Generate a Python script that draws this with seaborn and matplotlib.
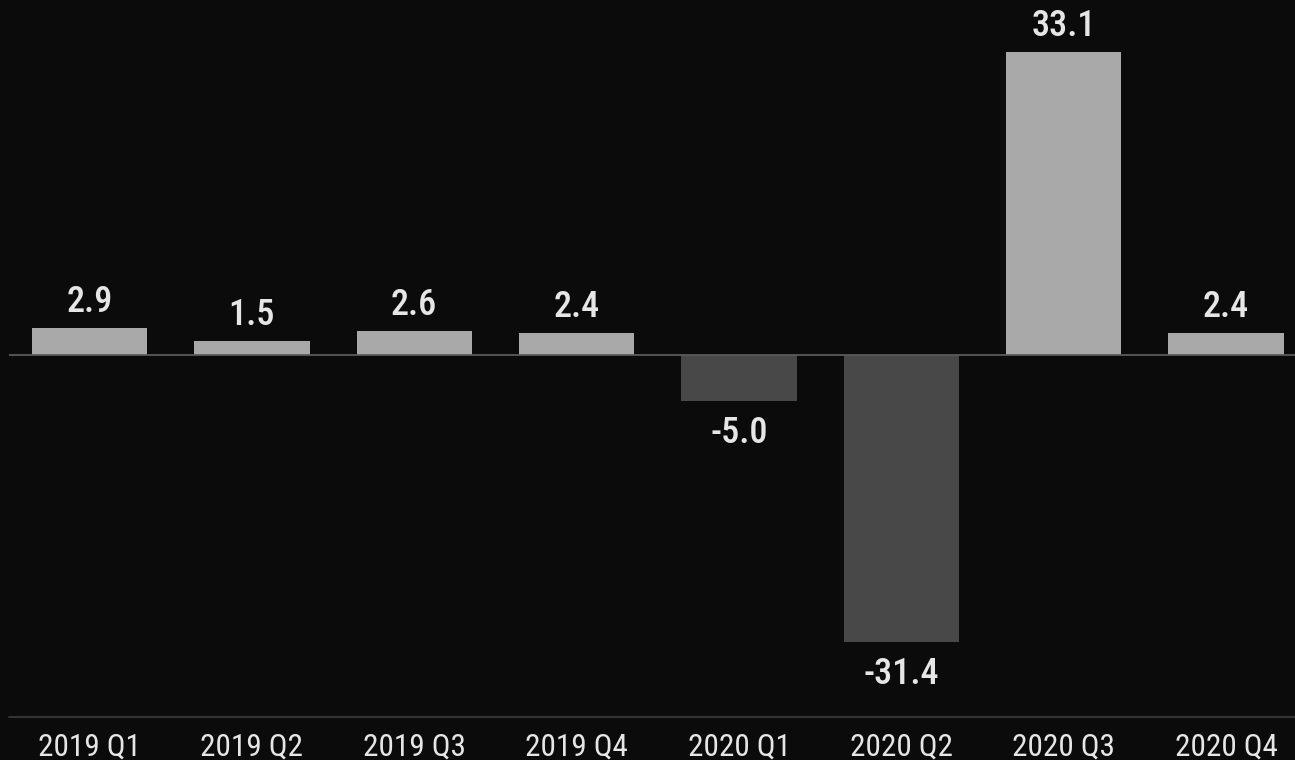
import matplotlib
matplotlib.use("Agg")
import matplotlib.pyplot as plt
import seaborn as sns
import pandas as pd

# Quarterly change, percent
quarters = ["2019 Q1", "2019 Q2", "2019 Q3", "2019 Q4",
            "2020 Q1", "2020 Q2", "2020 Q3", "2020 Q4"]
values = [2.9, 1.5, 2.6, 2.4, -5.0, -31.4, 33.1, 2.4]

BG = "#0b0b0b"
POS = "#a9a9a9"
NEG = "#484848"
TXT = "#e6e6e6"
FONT = ["Liberation Sans Narrow", "Roboto Condensed", "Roboto", "DejaVu Sans"]

sns.set_theme(style="dark")
plt.rcParams["font.family"] = FONT

df = pd.DataFrame({"quarter": quarters, "value": values})
colors = {q: (POS if v >= 0 else NEG) for q, v in zip(quarters, values)}

fig = plt.figure(figsize=(12.95, 7.6), dpi=100, facecolor=BG)
ax = fig.add_axes([9 / 1295, (760 - 717) / 760, (1295 - 9) / 1295, 717 / 760])
ax.set_facecolor(BG)

sns.barplot(data=df, x="quarter", y="value", hue="quarter", palette=colors,
            legend=False, width=0.71, saturation=1, ax=ax, linewidth=0)

scale = 9.15  # pixels per unit
ax.set_xlim(-0.496, 7.425)
ax.set_ylim(-362 / scale, 355 / scale)

ax.axhline(0, color="#5a5a5a", lw=1.3, zorder=3)
ax.axhline(ax.get_ylim()[0], color="#333333", lw=1.5, zorder=3, clip_on=False)

for i, v in enumerate(values):
    if v >= 0:
        ax.annotate(f"{v:.1f}", (i, v), xytext=(0, 6), textcoords="offset points",
                    ha="center", va="bottom", color=TXT, fontsize=26,
                    fontweight="medium", family=FONT)
    else:
        ax.annotate(f"{v:.1f}", (i, v), xytext=(0, -10), textcoords="offset points",
                    ha="center", va="top", color=TXT, fontsize=26,
                    fontweight="medium", family=FONT)

ax.set_yticks([])
ax.set_xlabel("")
ax.set_ylabel("")
ax.tick_params(axis="x", length=0, pad=11, labelsize=22.5, labelcolor=TXT)
for lbl in ax.get_xticklabels():
    lbl.set_family(FONT)
for s in ax.spines.values():
    s.set_visible(False)
ax.grid(False)

fig.savefig("out.png", dpi=100, facecolor=BG)
